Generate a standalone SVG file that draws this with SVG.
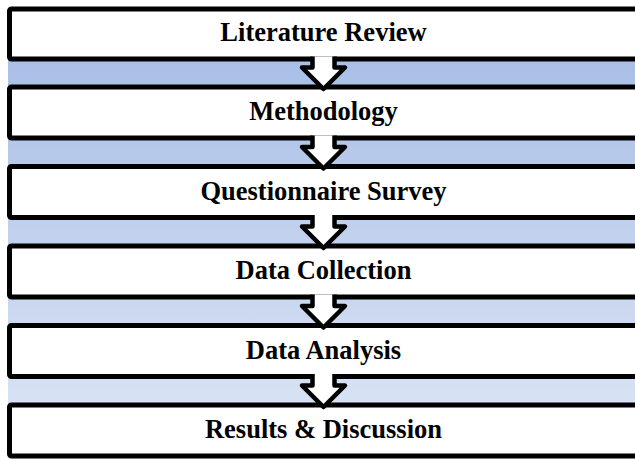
<svg xmlns="http://www.w3.org/2000/svg" width="635" height="459" viewBox="0 0 635 459">
  <defs>
    <linearGradient id="bg" x1="0" y1="0" x2="0" y2="1">
      <stop offset="0" stop-color="#a2bae5"/>
      <stop offset="1" stop-color="#dfe7f6"/>
    </linearGradient>
  </defs>
  <style>
    .box { fill: #ffffff; stroke: #000000; stroke-width: 5; }
    .arrow { fill: #ffffff; stroke: #000000; stroke-width: 4.5; stroke-linejoin: round; }
    .label { font-family: "Liberation Serif", "Times New Roman", serif; font-weight: bold; font-size: 26.5px; fill: #000000; text-anchor: middle; }
  </style>
  <rect x="0" y="0" width="635" height="459" fill="#ffffff"/>
  <rect x="8" y="8" width="640" height="448" fill="url(#bg)"/>

  <g id="node-literature-review">
    <rect class="box" x="9.5" y="9" width="640" height="50" rx="2"/>
    <text class="label" x="323.5" y="41">Literature Review</text>
  </g>
  <g id="node-methodology">
    <rect class="box" x="9.5" y="87" width="640" height="51" rx="2"/>
    <text class="label" x="323.5" y="120">Methodology</text>
  </g>
  <g id="node-questionnaire-survey">
    <rect class="box" x="9.5" y="166.5" width="640" height="51" rx="2"/>
    <text class="label" x="323.5" y="199.5">Questionnaire Survey</text>
  </g>
  <g id="node-data-collection">
    <rect class="box" x="9.5" y="246" width="640" height="51" rx="2"/>
    <text class="label" x="323.5" y="279">Data Collection</text>
  </g>
  <g id="node-data-analysis">
    <rect class="box" x="9.5" y="325.5" width="640" height="51" rx="2"/>
    <text class="label" x="323.5" y="358.5">Data Analysis</text>
  </g>
  <g id="node-results-discussion">
    <rect class="box" x="9.5" y="405" width="640" height="51" rx="2"/>
    <text class="label" x="323.5" y="438">Results &amp; Discussion</text>
  </g>

  <g id="connectors">
    <path class="arrow" d="M312.5 56.5 L312.5 67.5 L302 67.5 L323.5 89 L345 67.5 L334.5 67.5 L334.5 56.5"/>
    <path class="arrow" d="M312.5 135.5 L312.5 147 L302 147 L323.5 168.5 L345 147 L334.5 147 L334.5 135.5"/>
    <path class="arrow" d="M312.5 215 L312.5 226.5 L302 226.5 L323.5 248 L345 226.5 L334.5 226.5 L334.5 215"/>
    <path class="arrow" d="M312.5 294.5 L312.5 306 L302 306 L323.5 327.5 L345 306 L334.5 306 L334.5 294.5"/>
    <path class="arrow" d="M312.5 374 L312.5 385.5 L302 385.5 L323.5 407 L345 385.5 L334.5 385.5 L334.5 374"/>
  </g>
</svg>
